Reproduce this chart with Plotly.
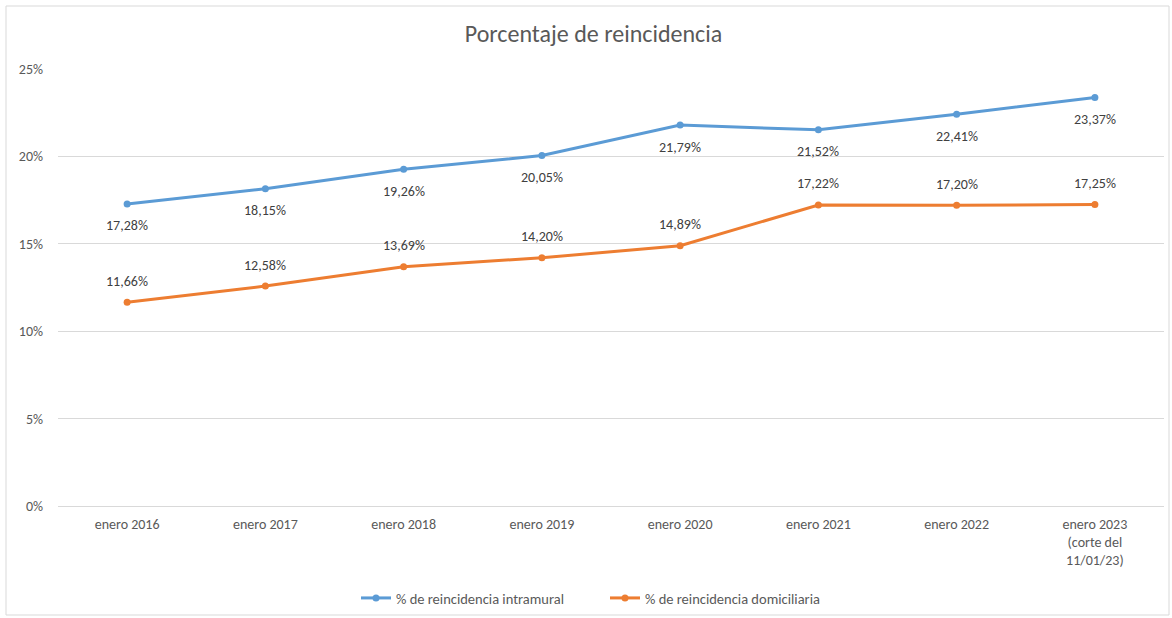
import plotly.graph_objects as go

categories = ["enero 2016", "enero 2017", "enero 2018", "enero 2019", "enero 2020",
              "enero 2021", "enero 2022", "enero 2023<br>(corte del<br>11/01/23)"]
intramural = [17.28, 18.15, 19.26, 20.05, 21.79, 21.52, 22.41, 23.37]
domiciliaria = [11.66, 12.58, 13.69, 14.20, 14.89, 17.22, 17.20, 17.25]
series_names = ["% de reincidencia intramural", "% de reincidencia domiciliaria"]
y_ticks = [0, 5, 10, 15, 20, 25]

FONT = "Carlito, Calibri, Lato, 'Open Sans', sans-serif"

def fmt(v):
    return f"{v:.2f}".replace(".", ",") + "%"

fig = go.Figure()
fig.add_trace(go.Scatter(
    x=categories, y=intramural, name=series_names[0], mode="lines+markers",
    line=dict(color="#5b9bd5", width=3), marker=dict(size=7, color="#5b9bd5"),
    cliponaxis=False))
fig.add_trace(go.Scatter(
    x=categories, y=domiciliaria, name=series_names[1], mode="lines+markers",
    line=dict(color="#ed7d31", width=3), marker=dict(size=7, color="#ed7d31"),
    cliponaxis=False))

annotations = []
for c, v in zip(categories, intramural):
    annotations.append(dict(x=c, y=v, text=fmt(v), showarrow=False, yshift=-22,
                            font=dict(size=14, color="#404040", family=FONT)))
for c, v in zip(categories, domiciliaria):
    annotations.append(dict(x=c, y=v, text=fmt(v), showarrow=False, yshift=21,
                            font=dict(size=14, color="#404040", family=FONT)))

L, R, T, B = 58, 8, 69, 112
W, H = 1172, 618
pw, ph = W - L - R, H - T - B

fig.update_layout(
    width=W, height=H,
    margin=dict(l=L, r=R, t=T, b=B, autoexpand=False),
    paper_bgcolor="white", plot_bgcolor="white",
    font=dict(family=FONT, color="#595959", size=14),
    title=dict(text="Porcentaje de reincidencia", x=593.5 / W, xanchor="center",
               y=1 - 34 / H, yanchor="middle", yref="container",
               font=dict(size=24, color="#595959", family=FONT)),
    showlegend=True,
    legend=dict(orientation="h", x=(356 - L) / pw, xanchor="left", y=(506 - 598) / ph,
                yanchor="middle", font=dict(size=14.5, color="#595959", family=FONT),
                entrywidth=204, entrywidthmode="pixels", tracegroupgap=0),
    annotations=annotations,
    xaxis=dict(type="category", range=[-0.5, len(categories) - 0.5], showgrid=False,
               showline=True, linecolor="#d9d9d9", ticklabelstandoff=5,
               ticks="", tickfont=dict(size=14, color="#595959"), fixedrange=True,
               automargin=False),
    yaxis=dict(range=[0, 25], tickvals=y_ticks, ticktext=[f"{v}%" for v in y_ticks],
               showgrid=True, gridcolor="#d9d9d9", gridwidth=1, zeroline=False,
               showline=False, ticks="", ticklabelstandoff=14, automargin=False,
               fixedrange=True, tickfont=dict(size=14, color="#595959")),
    shapes=[dict(type="rect", xref="paper", yref="paper",
                 x0=(6 - L) / pw, x1=(1169 - L) / pw,
                 y0=(506 - 615) / ph, y1=(506 - 6) / ph,
                 line=dict(color="#d9d9d9", width=1), fillcolor="rgba(0,0,0,0)", layer="below")],
)

fig.write_html("out.html", config={"displayModeBar": False},
               post_script="document.body.style.margin='0';document.body.style.overflow='hidden';")
